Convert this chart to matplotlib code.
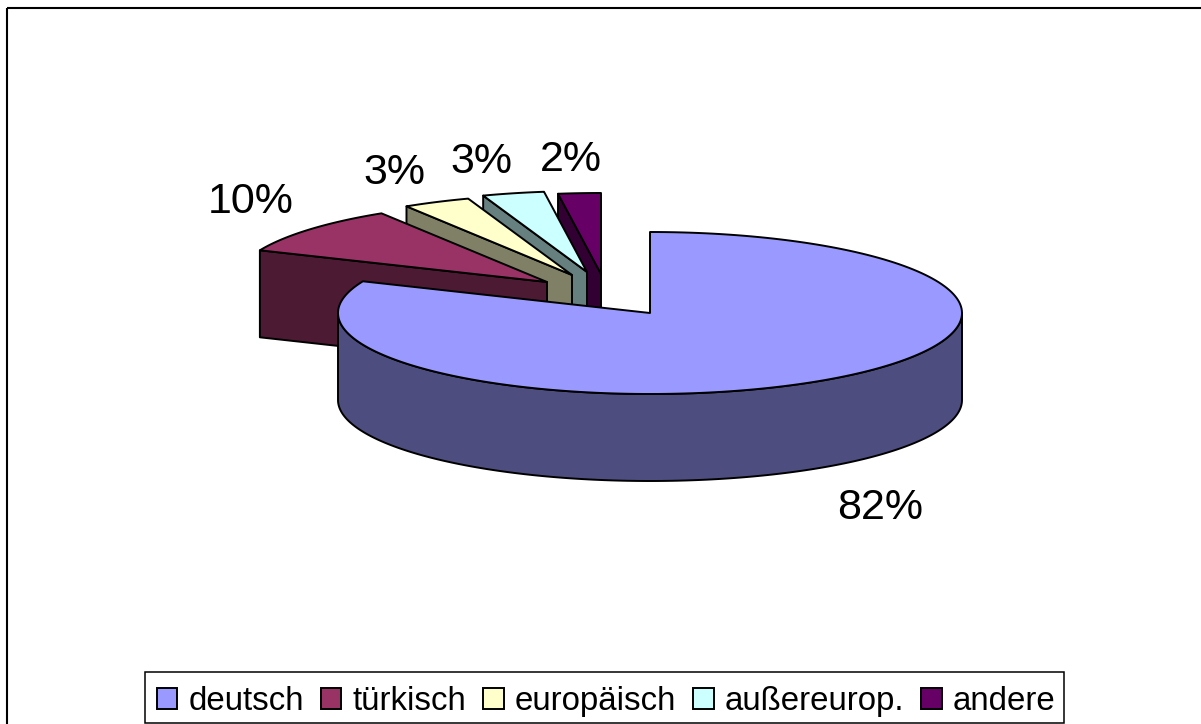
import numpy as np
import matplotlib
matplotlib.use('Agg')
import matplotlib.pyplot as plt
from matplotlib.patches import Patch, Polygon, Rectangle

categories = ['deutsch', 'türkisch', 'europäisch', 'außereurop.', 'andere']
values = [81.4, 9.7, 3.5, 3.2, 2.2]
top_colors = ['#9999FF', '#993366', '#FFFFCC', '#CCFFFF', '#660066']
side_colors = ['#4D4D80', '#4D1A33', '#808066', '#668080', '#330033']
percent_labels = ['82%', '10%', '3%', '3%', '2%']

# apex of each slice in pixels, the small ones are pulled out of the pie
apex_x = [650, 547, 572, 587, 601]
apex_y = [313, 282, 275, 272, 274]
label_x = [880, 251, 394, 481, 571]
label_y = [508, 202, 173, 162, 160]

RX, RY, DEPTH = 312, 81, 87
LW = 1.4

plt.rcParams['font.family'] = ['Liberation Sans', 'DejaVu Sans']


def rim(cx, cy, start, stop):
    """
    Points on the ellipse, angles clockwise from 12 o'clock in degrees.
    """
    t = np.radians(np.linspace(start, stop, 200))
    return np.column_stack([cx + RX * np.sin(t), cy - RY * np.cos(t)])


def draw_slice(ax, i, start, stop):
    cx, cy = apex_x[i], apex_y[i]
    edge = rim(cx, cy, start, stop)
    kw = dict(edgecolor='k', linewidth=LW, joinstyle='round')

    # radial wall of the pulled out slices
    if i > 0:
        p = edge[0]
        wall = [p, (cx, cy), (cx, cy + DEPTH), (p[0], p[1] + DEPTH)]
        ax.add_patch(Polygon(wall, facecolor=side_colors[i], **kw))

    # outer wall, only the front half can be seen
    front_start, front_stop = max(start, 90), min(stop, 270)
    if front_start < front_stop:
        front = rim(cx, cy, front_start, front_stop)
        lower = front[::-1] + [0, DEPTH]
        ax.add_patch(Polygon(np.vstack([front, lower]),
                             facecolor=side_colors[i], **kw))

    ax.add_patch(Polygon(np.vstack([[(cx, cy)], edge]),
                         facecolor=top_colors[i], **kw))


fig = plt.figure(figsize=(12.01, 7.24), dpi=100)
ax = fig.add_axes([0, 0, 1, 1])
ax.set_xlim(0, 1201)
ax.set_ylim(724, 0)
ax.axis('off')

# frame runs off the right and bottom of the image
ax.add_patch(Rectangle((7, 8), 1230, 760, fill=False, edgecolor='k', linewidth=1.5))

bounds = np.cumsum([0] + values) / sum(values) * 360
for i in range(len(values) - 1, -1, -1):
    draw_slice(ax, i, bounds[i], bounds[i + 1])

for x, y, s in zip(label_x, label_y, percent_labels):
    ax.text(x, y, s, fontsize=31, ha='center', va='center', color='k')

# legend box drawn apart, the legend's own frame is too tall for this font
ax.add_patch(Rectangle((145, 672), 919, 51, facecolor='w', edgecolor='k', linewidth=1.1))
handles = [Patch(facecolor=c, edgecolor='k', linewidth=1.4) for c in top_colors]
ax.legend(handles, categories, ncol=5, loc='lower left',
          bbox_to_anchor=(145, 729), bbox_transform=ax.transData,
          borderaxespad=0, fontsize=23.8, frameon=False,
          handlelength=0.62, handleheight=0.62,
          handletextpad=0.33, columnspacing=0.52, borderpad=0.36)

fig.savefig('out.png', dpi=100)
